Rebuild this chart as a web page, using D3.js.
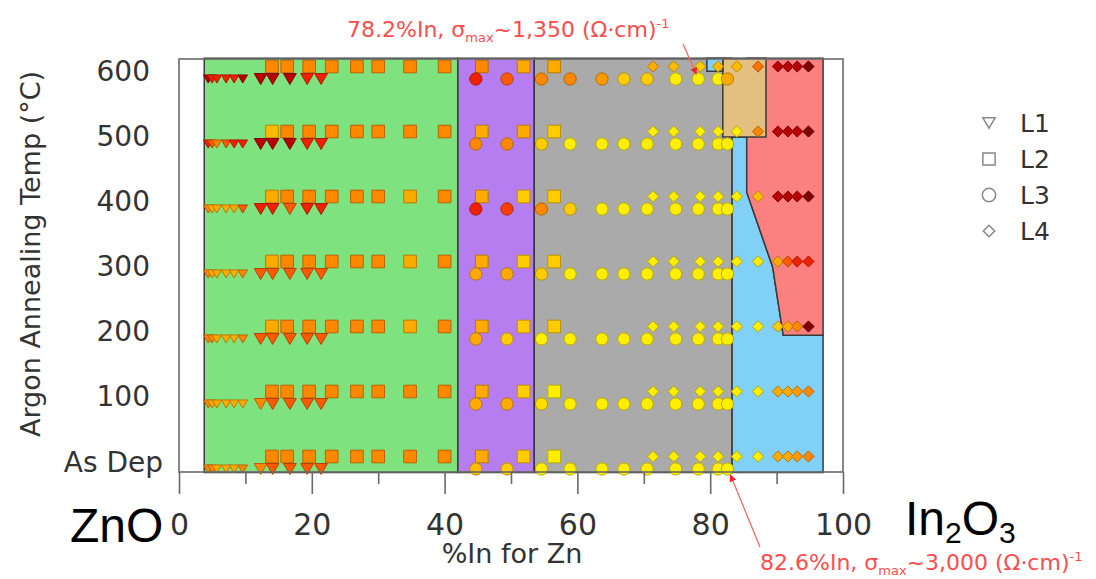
<!DOCTYPE html>
<html>
<head>
<meta charset="utf-8">
<script src="https://cdn.jsdelivr.net/npm/d3@7"></script>
<style>
  body { margin: 0; background: #fff; }
  svg { display: block; }
  .axis text, .title { font-family: "DejaVu Sans", Verdana, sans-serif; fill: #333; }
  .big { font-family: "Liberation Sans", Arial, sans-serif; fill: #000; }
  .note { font-family: "DejaVu Sans", Verdana, sans-serif; fill: #ff4d4d; }
</style>
</head>
<body>
<svg id="chart" width="1096" height="579"></svg>
<script>
// ---- data -------------------------------------------------------------
const temps = [0, 100, 200, 300, 400, 500, 600];
const tempTickLabels = ["100", "200", "300", "400", "500", "600"];
const xTickValues = [0, 20, 40, 60, 80, 100];
const xMinorTicks = [10, 30, 50, 70, 90];

// compositions (%In) sampled in each layer
const l1Comp = [4.4, 5.0, 5.7, 7.1, 8.3, 9.6, 12.3, 14.1, 16.7, 19.3, 21.4];
const l2Comp = [14.0, 16.3, 19.6, 23.0, 26.8, 30.0, 34.8, 40.0, 45.6, 51.9, 56.5];
const l3Comp = [44.7, 49.4, 54.6, 58.9, 63.7, 67.0, 70.5, 74.8, 78.2, 81.2, 82.6];
const l4Comp = [71.4, 74.5, 78.5, 81.2, 84.0, 87.2, 90.2, 91.7, 93.1, 94.8];

// conductivity level (0 = low/yellow ... 7 = high/dark red), one row per temperature
const l1Level = [
  [3, 3, 2, 2, 2, 3, 3, 4, 4, 4, 4],   // As Dep
  [3, 2, 2, 2, 2, 2, 3, 4, 4, 4, 4],   // 100
  [3, 3, 2, 2, 2, 3, 4, 4, 4, 4, 4],   // 200
  [3, 2, 2, 2, 2, 3, 4, 4, 4, 4, 4],   // 300
  [3, 2, 2, 2, 2, 4, 5, 5, 4, 5, 5],   // 400
  [5, 4, 3, 4, 5, 5, 6, 6, 6, 5, 5],   // 500
  [6, 5, 5, 5, 5, 6, 6, 6, 6, 5, 5]    // 600
];
const l2Level = [
  [3, 3, 3, 3, 3, 3, 3, 3, 2, 1, 0],
  [3, 3, 3, 3, 3, 3, 3, 3, 2, 1, 0],
  [2, 3, 3, 3, 3, 3, 2, 3, 2, 1, 1],
  [2, 3, 3, 3, 3, 3, 2, 3, 2, 1, 1],
  [2, 3, 3, 3, 3, 3, 2, 3, 2, 1, 1],
  [1.5, 3, 3, 3, 3, 3, 3, 3, 2, 2, 1],
  [3, 3, 3, 3, 3, 3, 3, 3, 3, 2, 2]
];
const l3Level = [
  [1.5, 1, 0, 0, 0, 0, 0, 0, 0, 0, 0],
  [2, 2, 0.5, 0, 0, 0, 0, 0, 0, 0, 0],
  [2, 1, 0, 0, 0, 0, 0, 0, 0, 0, 0],
  [2, 2, 1, 0, 0, 0, 0, 0, 0, 0, 0],
  [5, 4.5, 3, 1, 0, 0, 0, 0, 0, 0, 0],
  [3, 3, 1, 0, 0, 0, 0, 0, 0, 0, 0],
  [5, 4, 3, 3, 2.5, 1, 1, 0, 0, 0, 2]
];
const l4Level = [
  [0, 0, 0, 0, 0, 0, 2, 2, 2.5, 3],
  [0, 0, 0, 0, 0, 0, 2, 2, 2.5, 3],
  [0, 0, 0, 0, 0, 0, 1, 2, 3, 7],
  [0, 0, 0, 0, 0, 0, 2, 4, 5, 5],
  [0, 0, 0, 0, 0, 1.5, 6, 6, 6, 7],
  [0, 0, 0, 0, 0, 3, 6, 6, 6, 7],
  [2, 1.5, 1, 1.5, 1.5, 3.5, 6, 6, 6, 7]
];

// phase regions: [%In, temperature] outlines
const regions = [
  { fill: "#7ee27f", pts: [[3.8, -16], [42.0, -16], [42.0, 621], [3.8, 621]] },
  { fill: "#b67df0", pts: [[42.0, -16], [53.5, -16], [53.5, 621], [42.0, 621]] },
  { fill: "#aaaaaa", pts: [[53.5, -16], [83.3, -16], [83.3, 621], [53.5, 621]] },
  { fill: "#80d0f8", pts: [[83.3, -16], [97.0, -16], [97.0, 195], [91.0, 195], [89.4, 300], [85.5, 415], [85.5, 500], [83.3, 500]] },
  { fill: "#fb8080", pts: [[85.5, 621], [97.0, 621], [97.0, 195], [91.0, 195], [89.4, 300], [85.5, 415]] },
  { fill: "#e3c080", pts: [[81.9, 500], [88.4, 500], [88.4, 621], [81.9, 621]] },
  { fill: "#80d0f8", pts: [[79.5, 601], [81.9, 601], [81.9, 621], [79.5, 621]] }
];

// ---- layout -------------------------------------------------------------
const svg = d3.select("#chart");
const x = d3.scaleLinear().domain([0, 100]).range([179, 843]);
const y = d3.scaleLinear().domain([-15.4, 620]).range([472, 59]);

const levelColor = d3.scaleLinear()
  .domain([0, 1, 2, 3, 4, 5, 6, 7])
  .range(["#ffee00", "#ffcc00", "#ffaa00", "#ff8800", "#ff5a00", "#ee2200", "#b80000", "#800000"]);

// regions
const line = d3.line().x(d => x(d[0])).y(d => y(d[1]));
svg.append("g").selectAll("path").data(regions).join("path")
  .attr("d", d => line(d.pts) + "Z")
  .attr("fill", d => d.fill)
  .attr("stroke", "#3a3a3a")
  .attr("stroke-width", 1.5);

// ---- marker shapes ------------------------------------------------------
const triDown = {
  draw(ctx, size) {
    const w = Math.sqrt(size), h = w * 0.85;
    ctx.moveTo(-w / 2, -h / 2); ctx.lineTo(w / 2, -h / 2); ctx.lineTo(0, h / 2); ctx.closePath();
  }
};
const diamond = {
  draw(ctx, size) {
    const r = Math.sqrt(size) / 2;
    ctx.moveTo(0, -r); ctx.lineTo(r, 0); ctx.lineTo(0, r); ctx.lineTo(-r, 0); ctx.closePath();
  }
};

const layers = [
  { comp: l2Comp, level: l2Level, type: d3.symbolSquare, size: () => 160, dy: -5.5 },
  { comp: l4Comp, level: l4Level, type: diamond, size: () => 125, dy: -5.5 },
  { comp: l3Comp, level: l3Level, type: d3.symbolCircle, size: () => 118, dy: 7 },
  { comp: l1Comp, level: l1Level, type: triDown, size: c => (c < 11 ? 90 : 165), dy: 7 }
];

layers.forEach(layer => {
  const pts = [];
  temps.forEach((t, ti) => layer.comp.forEach((c, ci) => pts.push({ c, t, lv: layer.level[ti][ci] })));
  svg.append("g").selectAll("path").data(pts).join("path")
    .attr("transform", d => `translate(${x(d.c)},${y(d.t) + layer.dy})`)
    .attr("d", d => d3.symbol().type(layer.type).size(layer.size(d.c))())
    .attr("fill", d => levelColor(d.lv))
    .attr("stroke", d => d3.color(levelColor(d.lv)).darker(0.9))
    .attr("stroke-width", 1);
});

// ---- frame and axes -----------------------------------------------------
svg.append("rect")
  .attr("x", x(0)).attr("y", y(620))
  .attr("width", x(100) - x(0)).attr("height", y(-15.4) - y(620))
  .attr("fill", "none").attr("stroke", "#6a6a6a").attr("stroke-width", 1.6);

const xAxis = svg.append("g").attr("class", "axis").attr("transform", `translate(0,${y(-15.4)})`)
  .call(d3.axisBottom(x).tickValues(xTickValues).tickSize(22).tickPadding(20));
xAxis.select(".domain").remove();
xAxis.selectAll("line").attr("stroke", "#6a6a6a").attr("stroke-width", 1.6);
xAxis.selectAll("text").attr("font-size", 30).attr("fill", "#333");
svg.append("g").attr("transform", `translate(0,${y(-15.4)})`)
  .call(d3.axisBottom(x).tickValues(xMinorTicks).tickSize(12).tickFormat(""))
  .call(g => g.select(".domain").remove())
  .selectAll("line").attr("stroke", "#6a6a6a").attr("stroke-width", 1.6);

const yAxis = svg.append("g").attr("class", "axis").attr("transform", `translate(${x(0)},0)`)
  .call(d3.axisLeft(y).tickValues(temps.slice(1)).tickFormat((d, i) => tempTickLabels[i]).tickSize(0).tickPadding(29));
yAxis.select(".domain").remove();
yAxis.selectAll("text").attr("font-size", 28).attr("fill", "#333");

svg.append("text").attr("class", "title")
  .attr("x", 163).attr("y", y(0)).attr("dy", "0.35em")
  .attr("text-anchor", "end").attr("font-size", 28).text("As Dep");

svg.append("text").attr("class", "title")
  .attr("x", 512).attr("y", 563).attr("text-anchor", "middle")
  .attr("font-size", 27).text("%In for Zn");

svg.append("text").attr("class", "title")
  .attr("transform", `translate(40,${254}) rotate(-90)`)
  .attr("text-anchor", "middle").attr("font-size", 27).text("Argon Annealing Temp (°C)");

// end members
svg.append("text").attr("class", "big").attr("x", 70).attr("y", 542).attr("font-size", 48).text("ZnO");
const in2o3 = svg.append("text").attr("class", "big").attr("x", 905).attr("y", 535).attr("font-size", 48);
in2o3.append("tspan").text("In");
in2o3.append("tspan").attr("font-size", 30).attr("dy", 8).text("2");
in2o3.append("tspan").attr("dy", -8).text("O");
in2o3.append("tspan").attr("font-size", 30).attr("dy", 8).text("3");

// ---- legend -------------------------------------------------------------
const legendItems = [
  { name: "L1", type: triDown, size: 150 },
  { name: "L2", type: d3.symbolSquare, size: 150 },
  { name: "L3", type: d3.symbolCircle, size: 140 },
  { name: "L4", type: diamond, size: 130 }
];
const lg = svg.append("g").selectAll("g").data(legendItems).join("g")
  .attr("transform", (d, i) => `translate(989,${123 + i * 36})`);
lg.append("path").attr("d", d => d3.symbol().type(d.type).size(d.size)())
  .attr("fill", "none").attr("stroke", "#888").attr("stroke-width", 1.5);
lg.append("text").attr("class", "title").attr("x", 31).attr("dy", "0.36em")
  .attr("font-size", 25).text(d => d.name);

// ---- annotations --------------------------------------------------------
svg.append("defs").append("marker").attr("id", "arr")
  .attr("viewBox", "0 0 10 10").attr("refX", 9).attr("refY", 5)
  .attr("markerWidth", 6).attr("markerHeight", 6).attr("orient", "auto")
  .append("path").attr("d", "M0,0L10,5L0,10Z").attr("fill", "#ff2020");

function note(tx, ty, head, num) {
  const t = svg.append("text").attr("class", "note").attr("x", tx).attr("y", ty).attr("font-size", 22);
  t.append("tspan").text(head);
  t.append("tspan").attr("font-size", 13).attr("dy", 5).text("max");
  t.append("tspan").attr("dy", -5).text(num);
  t.append("tspan").attr("font-size", 13).attr("dy", -9).text("-1");
}
note(347, 37, "78.2%In, σ", "~1,350 (Ω·cm)");
note(760, 570, "82.6%In, σ", "~3,000 (Ω·cm)");

svg.append("line").attr("x1", 683).attr("y1", 44).attr("x2", x(78.2) - 2).attr("y2", y(600) + 2)
  .attr("stroke", "#ff6060").attr("stroke-width", 1.2).attr("marker-end", "url(#arr)");
svg.append("line").attr("x1", 760).attr("y1", 547).attr("x2", x(82.6) + 3).attr("y2", y(-15.4) + 3)
  .attr("stroke", "#ff6060").attr("stroke-width", 1.2).attr("marker-end", "url(#arr)");
</script>
</body>
</html>
